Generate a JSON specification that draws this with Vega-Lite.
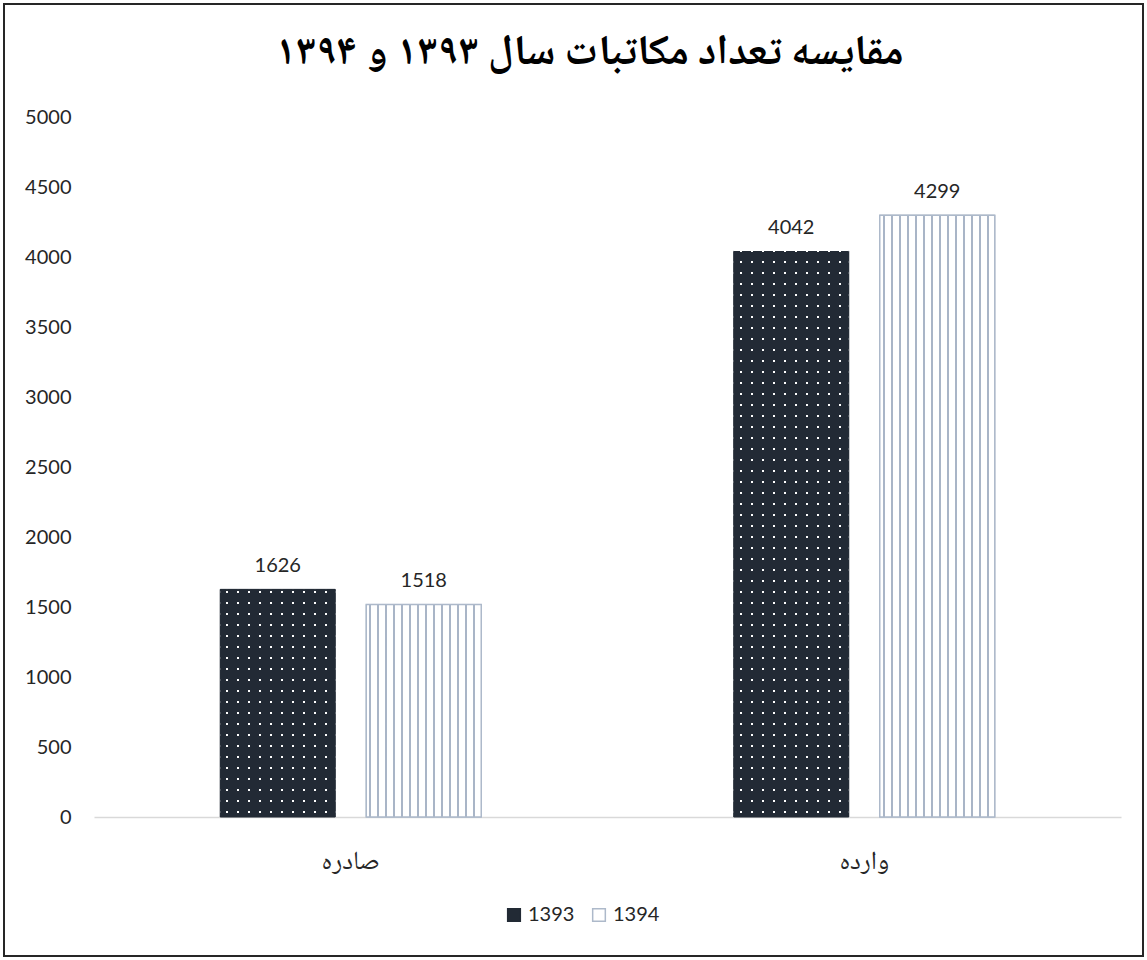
{
  "$schema": "https://vega.github.io/schema/vega-lite/v6.json",
  "width": 1139,
  "height": 952,
  "autosize": {"type": "none"},
  "padding": {"left": 4, "top": 4, "right": 4, "bottom": 4},
  "background": "#ffffff",
  "config": {"view": {"stroke": "#262626", "strokeWidth": 2}, "font": "Lato"},
  "title": {
    "text": "مقایسه تعداد مکاتبات سال ۱۳۹۳ و ۱۳۹۴",
    "font": "Noto Naskh Arabic, DejaVu Sans",
    "fontSize": 42,
    "fontWeight": "bold",
    "color": "#000000",
    "anchor": "middle",
    "offset": 0,
    "dx": 16,
    "dy": 69
  },
  "data": {
    "values": [
      {"cat": "صادره", "year": "1393", "value": 1626},
      {"cat": "صادره", "year": "1394", "value": 1518},
      {"cat": "وارده", "year": "1393", "value": 4042},
      {"cat": "وارده", "year": "1394", "value": 4299}
    ]
  },
  "encoding": {
    "x": {
      "field": "cat",
      "type": "nominal",
      "sort": ["صادره", "وارده"],
      "scale": {"range": [90, 1117], "paddingInner": 0.4917, "paddingOuter": 0.2458},
      "axis": {
        "title": null,
        "orient": "bottom",
        "offset": -139,
        "domain": true,
        "domainColor": "#d9d9d9",
        "domainWidth": 1.5,
        "ticks": false,
        "tickSize": 0,
        "grid": false,
        "labelAngle": 0,
        "labelPadding": 43,
        "labelBaseline": "middle",
        "labelFont": "Noto Naskh Arabic, DejaVu Sans",
        "labelFontSize": 26,
        "labelColor": "#262626"
      }
    },
    "xOffset": {"field": "year", "type": "nominal", "scale": {"paddingInner": 0.2123, "paddingOuter": 0}},
    "y": {
      "field": "value",
      "type": "quantitative",
      "scale": {"domain": [0, 5000], "range": [813, 113], "nice": false, "zero": true},
      "axis": {
        "title": null,
        "orient": "left",
        "offset": -69,
        "domain": false,
        "ticks": false,
        "tickSize": 0,
        "grid": false,
        "labelPadding": 2,
        "format": "d",
        "values": [0, 500, 1000, 1500, 2000, 2500, 3000, 3500, 4000, 4500, 5000],
        "labelFont": "Lato",
        "labelFontSize": 20,
        "labelColor": "#262626"
      }
    }
  },
  "layer": [
    {
      "mark": {"type": "bar", "strokeWidth": 1},
      "encoding": {
        "fill": {
          "field": "year",
          "type": "nominal",
          "scale": {"domain": ["1393", "1394"], "range": ["#222a35", "#ffffff"]},
          "legend": {
            "title": null,
            "orient": "none",
            "legendX": 500,
            "legendY": 901,
            "direction": "horizontal",
            "symbolType": "square",
            "symbolSize": 160,
            "symbolStrokeWidth": 1.5,
            "labelFont": "Lato",
            "labelFontSize": 20,
            "labelColor": "#262626",
            "labelOffset": 4,
            "columnPadding": 14,
            "padding": 0
          }
        },
        "stroke": {
          "field": "year",
          "type": "nominal",
          "scale": {"domain": ["1393", "1394"], "range": ["#222a35", "#adb9ca"]},
          "legend": {
            "title": null,
            "orient": "none",
            "legendX": 500,
            "legendY": 901,
            "direction": "horizontal",
            "symbolType": "square",
            "symbolSize": 160,
            "symbolStrokeWidth": 1.5,
            "labelFont": "Lato",
            "labelFontSize": 20,
            "labelColor": "#262626",
            "labelOffset": 4,
            "columnPadding": 14,
            "padding": 0
          }
        }
      }
    },
    {
      "transform": [{"filter": "datum.year == '1394'"}],
      "mark": {
        "type": "bar",
        "stroke": "#adb9ca",
        "strokeWidth": 1.5,
        "fill": {
          "gradient": "linear", "x1": 0, "y1": 0, "x2": 1, "y2": 0,
          "stops": [
            {"offset": 0, "color": "#ffffff"},
            {"offset": 0.02609, "color": "#ffffff"}, {"offset": 0.02609, "color": "#a9b5c7"}, {"offset": 0.04348, "color": "#a9b5c7"}, {"offset": 0.04348, "color": "#ffffff"},
            {"offset": 0.09565, "color": "#ffffff"}, {"offset": 0.09565, "color": "#a9b5c7"}, {"offset": 0.11304, "color": "#a9b5c7"}, {"offset": 0.11304, "color": "#ffffff"},
            {"offset": 0.16522, "color": "#ffffff"}, {"offset": 0.16522, "color": "#a9b5c7"}, {"offset": 0.18261, "color": "#a9b5c7"}, {"offset": 0.18261, "color": "#ffffff"},
            {"offset": 0.23478, "color": "#ffffff"}, {"offset": 0.23478, "color": "#a9b5c7"}, {"offset": 0.25217, "color": "#a9b5c7"}, {"offset": 0.25217, "color": "#ffffff"},
            {"offset": 0.30435, "color": "#ffffff"}, {"offset": 0.30435, "color": "#a9b5c7"}, {"offset": 0.32174, "color": "#a9b5c7"}, {"offset": 0.32174, "color": "#ffffff"},
            {"offset": 0.37391, "color": "#ffffff"}, {"offset": 0.37391, "color": "#a9b5c7"}, {"offset": 0.3913, "color": "#a9b5c7"}, {"offset": 0.3913, "color": "#ffffff"},
            {"offset": 0.44348, "color": "#ffffff"}, {"offset": 0.44348, "color": "#a9b5c7"}, {"offset": 0.46087, "color": "#a9b5c7"}, {"offset": 0.46087, "color": "#ffffff"},
            {"offset": 0.51304, "color": "#ffffff"}, {"offset": 0.51304, "color": "#a9b5c7"}, {"offset": 0.53043, "color": "#a9b5c7"}, {"offset": 0.53043, "color": "#ffffff"},
            {"offset": 0.58261, "color": "#ffffff"}, {"offset": 0.58261, "color": "#a9b5c7"}, {"offset": 0.6, "color": "#a9b5c7"}, {"offset": 0.6, "color": "#ffffff"},
            {"offset": 0.65217, "color": "#ffffff"}, {"offset": 0.65217, "color": "#a9b5c7"}, {"offset": 0.66957, "color": "#a9b5c7"}, {"offset": 0.66957, "color": "#ffffff"},
            {"offset": 0.72174, "color": "#ffffff"}, {"offset": 0.72174, "color": "#a9b5c7"}, {"offset": 0.73913, "color": "#a9b5c7"}, {"offset": 0.73913, "color": "#ffffff"},
            {"offset": 0.7913, "color": "#ffffff"}, {"offset": 0.7913, "color": "#a9b5c7"}, {"offset": 0.8087, "color": "#a9b5c7"}, {"offset": 0.8087, "color": "#ffffff"},
            {"offset": 0.86087, "color": "#ffffff"}, {"offset": 0.86087, "color": "#a9b5c7"}, {"offset": 0.87826, "color": "#a9b5c7"}, {"offset": 0.87826, "color": "#ffffff"},
            {"offset": 0.93043, "color": "#ffffff"}, {"offset": 0.93043, "color": "#a9b5c7"}, {"offset": 0.94783, "color": "#a9b5c7"}, {"offset": 0.94783, "color": "#ffffff"},
            {"offset": 1, "color": "#ffffff"}
          ]
        }
      }
    },
    {
      "transform": [{"filter": "datum.year == '1393'"}],
      "mark": {
        "type": "bar",
        "fill": {
          "gradient": "linear", "x1": 0, "y1": 1, "x2": 0, "y2": 0,
          "stops": [
            {"offset": 0, "color": "transparent"},
            {"offset": 0.005714, "color": "transparent"}, {"offset": 0.005714, "color": "#ffffff"}, {"offset": 0.008571, "color": "#ffffff"}, {"offset": 0.008571, "color": "transparent"},
            {"offset": 0.021429, "color": "transparent"}, {"offset": 0.021429, "color": "#ffffff"}, {"offset": 0.024286, "color": "#ffffff"}, {"offset": 0.024286, "color": "transparent"},
            {"offset": 0.037143, "color": "transparent"}, {"offset": 0.037143, "color": "#ffffff"}, {"offset": 0.04, "color": "#ffffff"}, {"offset": 0.04, "color": "transparent"},
            {"offset": 0.052857, "color": "transparent"}, {"offset": 0.052857, "color": "#ffffff"}, {"offset": 0.055714, "color": "#ffffff"}, {"offset": 0.055714, "color": "transparent"},
            {"offset": 0.068571, "color": "transparent"}, {"offset": 0.068571, "color": "#ffffff"}, {"offset": 0.071429, "color": "#ffffff"}, {"offset": 0.071429, "color": "transparent"},
            {"offset": 0.084286, "color": "transparent"}, {"offset": 0.084286, "color": "#ffffff"}, {"offset": 0.087143, "color": "#ffffff"}, {"offset": 0.087143, "color": "transparent"},
            {"offset": 0.1, "color": "transparent"}, {"offset": 0.1, "color": "#ffffff"}, {"offset": 0.102857, "color": "#ffffff"}, {"offset": 0.102857, "color": "transparent"},
            {"offset": 0.115714, "color": "transparent"}, {"offset": 0.115714, "color": "#ffffff"}, {"offset": 0.118571, "color": "#ffffff"}, {"offset": 0.118571, "color": "transparent"},
            {"offset": 0.131429, "color": "transparent"}, {"offset": 0.131429, "color": "#ffffff"}, {"offset": 0.134286, "color": "#ffffff"}, {"offset": 0.134286, "color": "transparent"},
            {"offset": 0.147143, "color": "transparent"}, {"offset": 0.147143, "color": "#ffffff"}, {"offset": 0.15, "color": "#ffffff"}, {"offset": 0.15, "color": "transparent"},
            {"offset": 0.162857, "color": "transparent"}, {"offset": 0.162857, "color": "#ffffff"}, {"offset": 0.165714, "color": "#ffffff"}, {"offset": 0.165714, "color": "transparent"},
            {"offset": 0.178571, "color": "transparent"}, {"offset": 0.178571, "color": "#ffffff"}, {"offset": 0.181429, "color": "#ffffff"}, {"offset": 0.181429, "color": "transparent"},
            {"offset": 0.194286, "color": "transparent"}, {"offset": 0.194286, "color": "#ffffff"}, {"offset": 0.197143, "color": "#ffffff"}, {"offset": 0.197143, "color": "transparent"},
            {"offset": 0.21, "color": "transparent"}, {"offset": 0.21, "color": "#ffffff"}, {"offset": 0.212857, "color": "#ffffff"}, {"offset": 0.212857, "color": "transparent"},
            {"offset": 0.225714, "color": "transparent"}, {"offset": 0.225714, "color": "#ffffff"}, {"offset": 0.228571, "color": "#ffffff"}, {"offset": 0.228571, "color": "transparent"},
            {"offset": 0.241429, "color": "transparent"}, {"offset": 0.241429, "color": "#ffffff"}, {"offset": 0.244286, "color": "#ffffff"}, {"offset": 0.244286, "color": "transparent"},
            {"offset": 0.257143, "color": "transparent"}, {"offset": 0.257143, "color": "#ffffff"}, {"offset": 0.26, "color": "#ffffff"}, {"offset": 0.26, "color": "transparent"},
            {"offset": 0.272857, "color": "transparent"}, {"offset": 0.272857, "color": "#ffffff"}, {"offset": 0.275714, "color": "#ffffff"}, {"offset": 0.275714, "color": "transparent"},
            {"offset": 0.288571, "color": "transparent"}, {"offset": 0.288571, "color": "#ffffff"}, {"offset": 0.291429, "color": "#ffffff"}, {"offset": 0.291429, "color": "transparent"},
            {"offset": 0.304286, "color": "transparent"}, {"offset": 0.304286, "color": "#ffffff"}, {"offset": 0.307143, "color": "#ffffff"}, {"offset": 0.307143, "color": "transparent"},
            {"offset": 0.32, "color": "transparent"}, {"offset": 0.32, "color": "#ffffff"}, {"offset": 0.322857, "color": "#ffffff"}, {"offset": 0.322857, "color": "transparent"},
            {"offset": 0.335714, "color": "transparent"}, {"offset": 0.335714, "color": "#ffffff"}, {"offset": 0.338571, "color": "#ffffff"}, {"offset": 0.338571, "color": "transparent"},
            {"offset": 0.351429, "color": "transparent"}, {"offset": 0.351429, "color": "#ffffff"}, {"offset": 0.354286, "color": "#ffffff"}, {"offset": 0.354286, "color": "transparent"},
            {"offset": 0.367143, "color": "transparent"}, {"offset": 0.367143, "color": "#ffffff"}, {"offset": 0.37, "color": "#ffffff"}, {"offset": 0.37, "color": "transparent"},
            {"offset": 0.382857, "color": "transparent"}, {"offset": 0.382857, "color": "#ffffff"}, {"offset": 0.385714, "color": "#ffffff"}, {"offset": 0.385714, "color": "transparent"},
            {"offset": 0.398571, "color": "transparent"}, {"offset": 0.398571, "color": "#ffffff"}, {"offset": 0.401429, "color": "#ffffff"}, {"offset": 0.401429, "color": "transparent"},
            {"offset": 0.414286, "color": "transparent"}, {"offset": 0.414286, "color": "#ffffff"}, {"offset": 0.417143, "color": "#ffffff"}, {"offset": 0.417143, "color": "transparent"},
            {"offset": 0.43, "color": "transparent"}, {"offset": 0.43, "color": "#ffffff"}, {"offset": 0.432857, "color": "#ffffff"}, {"offset": 0.432857, "color": "transparent"},
            {"offset": 0.445714, "color": "transparent"}, {"offset": 0.445714, "color": "#ffffff"}, {"offset": 0.448571, "color": "#ffffff"}, {"offset": 0.448571, "color": "transparent"},
            {"offset": 0.461429, "color": "transparent"}, {"offset": 0.461429, "color": "#ffffff"}, {"offset": 0.464286, "color": "#ffffff"}, {"offset": 0.464286, "color": "transparent"},
            {"offset": 0.477143, "color": "transparent"}, {"offset": 0.477143, "color": "#ffffff"}, {"offset": 0.48, "color": "#ffffff"}, {"offset": 0.48, "color": "transparent"},
            {"offset": 0.492857, "color": "transparent"}, {"offset": 0.492857, "color": "#ffffff"}, {"offset": 0.495714, "color": "#ffffff"}, {"offset": 0.495714, "color": "transparent"},
            {"offset": 0.508571, "color": "transparent"}, {"offset": 0.508571, "color": "#ffffff"}, {"offset": 0.511429, "color": "#ffffff"}, {"offset": 0.511429, "color": "transparent"},
            {"offset": 0.524286, "color": "transparent"}, {"offset": 0.524286, "color": "#ffffff"}, {"offset": 0.527143, "color": "#ffffff"}, {"offset": 0.527143, "color": "transparent"},
            {"offset": 0.54, "color": "transparent"}, {"offset": 0.54, "color": "#ffffff"}, {"offset": 0.542857, "color": "#ffffff"}, {"offset": 0.542857, "color": "transparent"},
            {"offset": 0.555714, "color": "transparent"}, {"offset": 0.555714, "color": "#ffffff"}, {"offset": 0.558571, "color": "#ffffff"}, {"offset": 0.558571, "color": "transparent"},
            {"offset": 0.571429, "color": "transparent"}, {"offset": 0.571429, "color": "#ffffff"}, {"offset": 0.574286, "color": "#ffffff"}, {"offset": 0.574286, "color": "transparent"},
            {"offset": 0.587143, "color": "transparent"}, {"offset": 0.587143, "color": "#ffffff"}, {"offset": 0.59, "color": "#ffffff"}, {"offset": 0.59, "color": "transparent"},
            {"offset": 0.602857, "color": "transparent"}, {"offset": 0.602857, "color": "#ffffff"}, {"offset": 0.605714, "color": "#ffffff"}, {"offset": 0.605714, "color": "transparent"},
            {"offset": 0.618571, "color": "transparent"}, {"offset": 0.618571, "color": "#ffffff"}, {"offset": 0.621429, "color": "#ffffff"}, {"offset": 0.621429, "color": "transparent"},
            {"offset": 0.634286, "color": "transparent"}, {"offset": 0.634286, "color": "#ffffff"}, {"offset": 0.637143, "color": "#ffffff"}, {"offset": 0.637143, "color": "transparent"},
            {"offset": 0.65, "color": "transparent"}, {"offset": 0.65, "color": "#ffffff"}, {"offset": 0.652857, "color": "#ffffff"}, {"offset": 0.652857, "color": "transparent"},
            {"offset": 0.665714, "color": "transparent"}, {"offset": 0.665714, "color": "#ffffff"}, {"offset": 0.668571, "color": "#ffffff"}, {"offset": 0.668571, "color": "transparent"},
            {"offset": 0.681429, "color": "transparent"}, {"offset": 0.681429, "color": "#ffffff"}, {"offset": 0.684286, "color": "#ffffff"}, {"offset": 0.684286, "color": "transparent"},
            {"offset": 0.697143, "color": "transparent"}, {"offset": 0.697143, "color": "#ffffff"}, {"offset": 0.7, "color": "#ffffff"}, {"offset": 0.7, "color": "transparent"},
            {"offset": 0.712857, "color": "transparent"}, {"offset": 0.712857, "color": "#ffffff"}, {"offset": 0.715714, "color": "#ffffff"}, {"offset": 0.715714, "color": "transparent"},
            {"offset": 0.728571, "color": "transparent"}, {"offset": 0.728571, "color": "#ffffff"}, {"offset": 0.731429, "color": "#ffffff"}, {"offset": 0.731429, "color": "transparent"},
            {"offset": 0.744286, "color": "transparent"}, {"offset": 0.744286, "color": "#ffffff"}, {"offset": 0.747143, "color": "#ffffff"}, {"offset": 0.747143, "color": "transparent"},
            {"offset": 0.76, "color": "transparent"}, {"offset": 0.76, "color": "#ffffff"}, {"offset": 0.762857, "color": "#ffffff"}, {"offset": 0.762857, "color": "transparent"},
            {"offset": 0.775714, "color": "transparent"}, {"offset": 0.775714, "color": "#ffffff"}, {"offset": 0.778571, "color": "#ffffff"}, {"offset": 0.778571, "color": "transparent"},
            {"offset": 0.791429, "color": "transparent"}, {"offset": 0.791429, "color": "#ffffff"}, {"offset": 0.794286, "color": "#ffffff"}, {"offset": 0.794286, "color": "transparent"},
            {"offset": 0.807143, "color": "transparent"}, {"offset": 0.807143, "color": "#ffffff"}, {"offset": 0.81, "color": "#ffffff"}, {"offset": 0.81, "color": "transparent"},
            {"offset": 1, "color": "transparent"}
          ]
        }
      },
      "encoding": {"y": {"datum": 5000}, "y2": {"datum": 0}}
    },
    {
      "transform": [{"filter": "datum.year == '1393'"}],
      "mark": {
        "type": "bar",
        "fill": {
          "gradient": "linear", "x1": 0, "y1": 0, "x2": 1, "y2": 0,
          "stops": [
            {"offset": 0, "color": "#222a35"},
            {"offset": 0.05217, "color": "#222a35"}, {"offset": 0.05217, "color": "transparent"}, {"offset": 0.06957, "color": "transparent"}, {"offset": 0.06957, "color": "#222a35"},
            {"offset": 0.14783, "color": "#222a35"}, {"offset": 0.14783, "color": "transparent"}, {"offset": 0.16522, "color": "transparent"}, {"offset": 0.16522, "color": "#222a35"},
            {"offset": 0.24348, "color": "#222a35"}, {"offset": 0.24348, "color": "transparent"}, {"offset": 0.26087, "color": "transparent"}, {"offset": 0.26087, "color": "#222a35"},
            {"offset": 0.33913, "color": "#222a35"}, {"offset": 0.33913, "color": "transparent"}, {"offset": 0.35652, "color": "transparent"}, {"offset": 0.35652, "color": "#222a35"},
            {"offset": 0.43478, "color": "#222a35"}, {"offset": 0.43478, "color": "transparent"}, {"offset": 0.45217, "color": "transparent"}, {"offset": 0.45217, "color": "#222a35"},
            {"offset": 0.53043, "color": "#222a35"}, {"offset": 0.53043, "color": "transparent"}, {"offset": 0.54783, "color": "transparent"}, {"offset": 0.54783, "color": "#222a35"},
            {"offset": 0.62609, "color": "#222a35"}, {"offset": 0.62609, "color": "transparent"}, {"offset": 0.64348, "color": "transparent"}, {"offset": 0.64348, "color": "#222a35"},
            {"offset": 0.72174, "color": "#222a35"}, {"offset": 0.72174, "color": "transparent"}, {"offset": 0.73913, "color": "transparent"}, {"offset": 0.73913, "color": "#222a35"},
            {"offset": 0.81739, "color": "#222a35"}, {"offset": 0.81739, "color": "transparent"}, {"offset": 0.83478, "color": "transparent"}, {"offset": 0.83478, "color": "#222a35"},
            {"offset": 0.91304, "color": "#222a35"}, {"offset": 0.91304, "color": "transparent"}, {"offset": 0.93043, "color": "transparent"}, {"offset": 0.93043, "color": "#222a35"},
            {"offset": 1, "color": "#222a35"}
          ]
        }
      }
    },
    {
      "mark": {"type": "text", "baseline": "alphabetic", "align": "center", "dy": -17, "font": "Lato", "fontSize": 20, "color": "#262626"},
      "encoding": {"text": {"field": "value", "type": "quantitative", "format": "d"}}
    }
  ]
}
